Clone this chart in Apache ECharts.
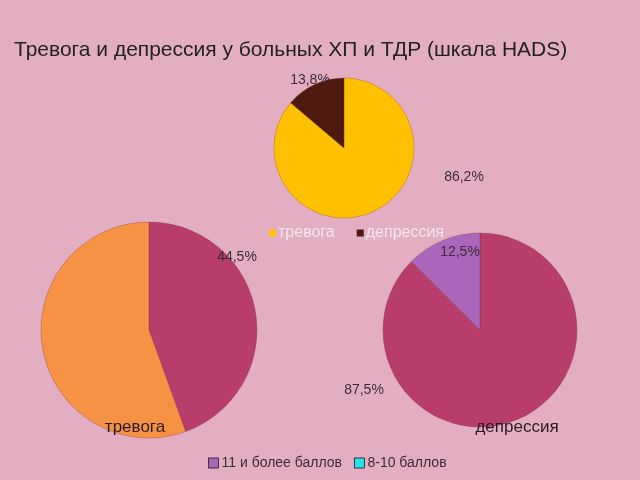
<!DOCTYPE html>
<html><head><meta charset="utf-8">
<script src="https://cdn.jsdelivr.net/npm/echarts@6/dist/echarts.min.js"></script>
<style>html,body{margin:0;padding:0;background:#E3AEC2}#c{width:640px;height:480px}</style>
</head><body><div id="c"></div>
<script>
const titleText = 'Тревога и депрессия у больных ХП и ТДР (шкала HADS)';
const topCats = ['тревога', 'депрессия'];
const topVals = [86.2, 13.8];
const bottomCats = ['11 и более баллов', '8-10 баллов'];
const anxietyVals = [44.5, 55.5];
const depressionVals = [87.5, 12.5];
const pieTitles = ['тревога', 'депрессия'];

const fmt = p => String(p.value.toFixed(1)).replace('.', ',') + '%';
const labelStyle = {show: true, formatter: fmt, fontFamily: 'Liberation Sans', fontSize: 14, color: '#3d2b3a'};

function placed(points) {
  return function (params) {
    const pt = points[params.dataIndex];
    return {x: pt[0], y: pt[1], align: 'center', verticalAlign: 'middle'};
  };
}

const chart = echarts.init(document.getElementById('c'));
chart.setOption({
  backgroundColor: '#E3AEC2',
  animation: false,
  title: [
    {text: titleText, left: 9, top: 35, textStyle: {fontFamily: 'Liberation Sans', fontSize: 21, fontWeight: 'normal', color: '#222'}},
    {text: pieTitles[0], left: 130, top: 414, textAlign: 'center', textStyle: {fontFamily: 'Liberation Sans', fontSize: 17, fontWeight: 'normal', color: '#2a1a22'}},
    {text: pieTitles[1], left: 512, top: 414, textAlign: 'center', textStyle: {fontFamily: 'Liberation Sans', fontSize: 17, fontWeight: 'normal', color: '#2a1a22'}}
  ],
  legend: [
    {
      data: [
        {name: topCats[0], itemStyle: {color: '#FFC000', borderWidth: 0}},
        {name: topCats[1], itemStyle: {color: '#4E1A0F', borderWidth: 0}}
      ],
      left: 264, top: 220, itemWidth: 7, itemHeight: 7, itemGap: 22, icon: 'rect',
      textStyle: {fontFamily: 'Liberation Sans', fontSize: 16, color: '#F6E6EE', padding: [0, 0, 0, -3]}
    },
    {
      data: [
        {name: bottomCats[0], itemStyle: {color: '#A966BA', borderColor: '#3b2b3b', borderWidth: 1}},
        {name: bottomCats[1], itemStyle: {color: '#22E4EC', borderColor: '#3b2b3b', borderWidth: 1}}
      ],
      left: 203, top: 451, itemWidth: 10, itemHeight: 10, itemGap: 12, icon: 'rect',
      textStyle: {fontFamily: 'Liberation Sans', fontSize: 14, color: '#3d2b3a', padding: [0, 0, 0, -2]}
    }
  ],
  series: [
    {
      type: 'pie', center: [344, 148], radius: 70, startAngle: 90, clockwise: true,
      itemStyle: {borderColor: 'rgba(120,60,40,0.5)', borderWidth: 0.6},
      label: labelStyle, labelLine: {show: false},
      labelLayout: placed([[464, 177], [310, 80]]),
      data: [
        {name: topCats[0], value: topVals[0], itemStyle: {color: '#FFC000'}},
        {name: topCats[1], value: topVals[1], itemStyle: {color: '#4E1A0F'}}
      ]
    },
    {
      type: 'pie', center: [149, 330], radius: 108, startAngle: 90, clockwise: true,
      itemStyle: {borderColor: 'rgba(110,40,60,0.5)', borderWidth: 0.6},
      label: labelStyle, labelLine: {show: false},
      labelLayout: placed([[237, 257], [48, 390]]),
      data: [
        {name: bottomCats[0], value: anxietyVals[0], itemStyle: {color: '#B93D6A'}},
        {name: bottomCats[1], value: anxietyVals[1], itemStyle: {color: '#F79244'}}
      ]
    },
    {
      type: 'pie', center: [480, 330], radius: 97, startAngle: 90, clockwise: true,
      itemStyle: {borderColor: 'rgba(110,40,60,0.5)', borderWidth: 0.6},
      label: labelStyle, labelLine: {show: false},
      labelLayout: placed([[364, 390], [460, 252]]),
      data: [
        {name: bottomCats[0], value: depressionVals[0], itemStyle: {color: '#B93D6A'}},
        {name: bottomCats[1], value: depressionVals[1], itemStyle: {color: '#A966BA'}}
      ]
    }
  ]
});
</script>
</body></html>
